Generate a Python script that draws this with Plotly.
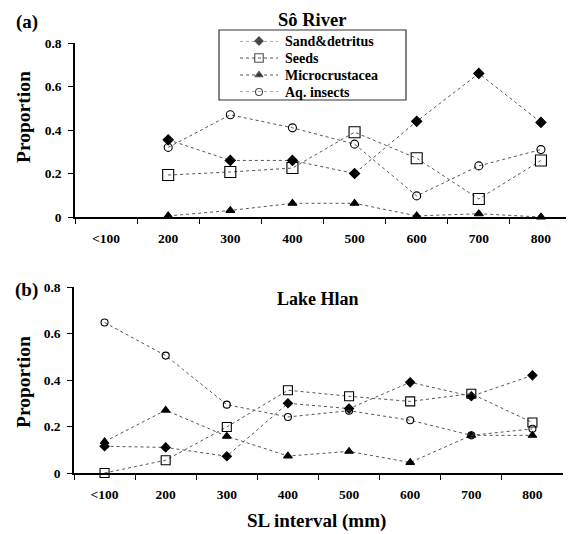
import plotly.graph_objects as go

categories = ["<100", "200", "300", "400", "500", "600", "700", "800"]
series_names = ["Sand&detritus", "Seeds", "Microcrustacea", "Aq. insects"]

so_sand = [None, 0.355, 0.26, 0.26, 0.20, 0.44, 0.66, 0.435]
so_seeds = [None, 0.193, 0.207, 0.225, 0.39, 0.27, 0.083, 0.26]
so_micro = [None, 0.005, 0.03, 0.063, 0.063, 0.005, 0.015, 0.0]
so_insects = [None, 0.32, 0.47, 0.41, 0.335, 0.097, 0.235, 0.31]

hl_sand = [0.115, 0.11, 0.072, 0.30, 0.277, 0.39, 0.33, 0.42]
hl_seeds = [0.0, 0.055, 0.198, 0.356, 0.33, 0.308, 0.341, 0.217]
hl_micro = [0.135, 0.27, 0.158, 0.073, 0.093, 0.045, 0.162, 0.162]
hl_insects = [0.647, 0.505, 0.294, 0.241, 0.268, 0.227, 0.162, 0.19]

y_ticks = [0, 0.2, 0.4, 0.6, 0.8]
y_ticktext = ["0", "0.2", "0.4", "0.6", "0.8"]

FONT = "'Liberation Serif', 'Times New Roman', Times, serif"
# page body has an 8px margin: the figure is sized so it fits the window
OFF = 8
W, H = 574 - OFF, 534 - OFF


def px(xp):
    return (xp - OFF) / W


def py(yp):
    return 1 - (yp - OFF) / H


symbols = ["diamond", "square-open", "triangle-up", "circle-open"]
top_sizes = [7.8, 11, 7.8, 8]
bot_sizes = [7, 9, 7.6, 7]
leg_sizes = [6.3, 8.5, 7, 7]
LINE = dict(color="#555555", width=1, dash="dot")


def marker(i, size):
    return dict(symbol=symbols[i], size=size, color="black",
                line=dict(color="black", width=1.1))


fig = go.Figure()
top = [so_sand, so_seeds, so_micro, so_insects]
bot = [hl_sand, hl_seeds, hl_micro, hl_insects]
for i, name in enumerate(series_names):
    fig.add_trace(go.Scatter(
        x=categories, y=top[i], name=name, mode="lines+markers",
        line=LINE, marker=marker(i, top_sizes[i]),
        xaxis="x", yaxis="y", showlegend=False, cliponaxis=False))
for i, name in enumerate(series_names):
    fig.add_trace(go.Scatter(
        x=categories, y=bot[i], name=name, mode="lines+markers",
        line=LINE, marker=marker(i, bot_sizes[i]),
        xaxis="x2", yaxis="y2", showlegend=False, cliponaxis=False))

# legend samples (drawn on a small hidden axis inside the legend box)
legend_rows = [0, 1, 2, 3]
for i, name in enumerate(series_names):
    m = marker(i, [0, leg_sizes[i], 0])
    fig.add_trace(go.Scatter(
        x=[0, 0.5, 1], y=[legend_rows[i]] * 3, mode="lines+markers",
        line=LINE, marker=m, xaxis="x3", yaxis="y3", showlegend=False,
        hoverinfo="skip", cliponaxis=False))

xcommon = dict(type="category", categoryorder="array", categoryarray=categories,
               range=[-0.5, 7.5], tickson="boundaries", ticks="outside", ticklen=5,
               tickcolor="black", tickwidth=1.2, showline=True, linecolor="black",
               linewidth=1.5, showgrid=False, zeroline=False, automargin=False,
               ticklabelstandoff=8,
               tickfont=dict(family=FONT, size=13.5, color="black", weight="bold"))
ycommon = dict(range=[0, 0.8], tickvals=y_ticks, ticktext=y_ticktext,
               ticks="outside", ticklen=5, tickcolor="black", tickwidth=1.2,
               showline=True, linecolor="black", linewidth=1.5, showgrid=False,
               zeroline=False, automargin=False, ticklabelstandoff=4,
               tickfont=dict(family=FONT, size=13.5, color="black", weight="bold"))

fig.update_layout(
    width=W, height=H,
    margin=dict(l=0, r=0, t=0, b=0, pad=0, autoexpand=False),
    paper_bgcolor="white", plot_bgcolor="rgba(0,0,0,0)",
    xaxis=dict(domain=[px(75), px(572)], anchor="y", **xcommon),
    yaxis=dict(domain=[py(217), py(43)], anchor="x", **ycommon),
    xaxis2=dict(domain=[px(74), px(563)], anchor="y2", **xcommon),
    yaxis2=dict(domain=[py(473), py(287)], anchor="x2", **ycommon),
    xaxis3=dict(domain=[px(240), px(278)], range=[0, 1], visible=False,
                anchor="y3", fixedrange=True),
    yaxis3=dict(domain=[py(92), py(41)], range=[3, 0], visible=False,
                anchor="x3", fixedrange=True),
    showlegend=False,
)

fig.add_shape(type="rect", xref="paper", yref="paper",
              x0=px(219), x1=px(406), y0=py(100), y1=py(30),
              line=dict(color="#333333", width=1.2), fillcolor="white", layer="below")

legend_y = [41, 58, 75, 92]
for i, name in enumerate(series_names):
    fig.add_annotation(text=name, x=px(283), y=py(legend_y[i]), xref="paper", yref="paper",
                       showarrow=False, xanchor="left", yanchor="middle",
                       font=dict(family=FONT, size=14, color="black", weight="bold"))

ann = [
    dict(text="(a)", x=px(27), y=py(22), size=19),
    dict(text="(b)", x=px(26), y=py(290), size=19),
    dict(text="Sô River", x=px(312), y=py(20), size=18.5),
    dict(text="Lake Hlan", x=px(318), y=py(299), size=18),
    dict(text="SL interval (mm)", x=px(316), y=py(521), size=19),
]
for a in ann:
    fig.add_annotation(text=a["text"], x=a["x"], y=a["y"], xref="paper", yref="paper",
                       showarrow=False, xanchor="center", yanchor="middle",
                       font=dict(family=FONT, size=a["size"], color="black", weight="bold"))
for yc in (117, 382):
    fig.add_annotation(text="Proportion", x=px(23), y=py(yc), xref="paper", yref="paper",
                       showarrow=False, textangle=-90, xanchor="center", yanchor="middle",
                       font=dict(family=FONT, size=19.5, color="black", weight="bold"))

fig.write_html("out.html")
